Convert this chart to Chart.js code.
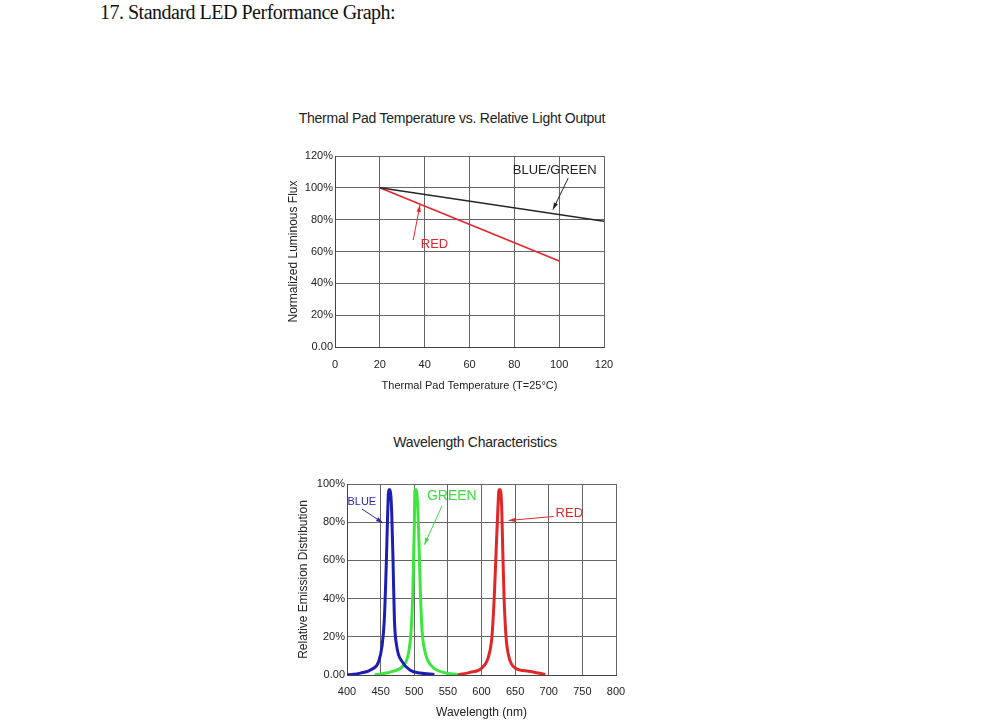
<!DOCTYPE html>
<html>
<head>
<meta charset="utf-8">
<title>Standard LED Performance Graph</title>
<script src="https://cdn.jsdelivr.net/npm/chart.js@4.4.1/dist/chart.umd.min.js"></script>
<style>
	body {
		margin: 0;
		background: #fff;
		width: 987px;
		height: 722px;
		position: relative;
		overflow: hidden;
		font-family: "Liberation Sans", Arial, sans-serif;
	}
	.cabecalho {
		position: absolute;
		left: 100px;
		top: 1px;
		font-family: "Liberation Serif", "Times New Roman", serif;
		font-size: 20px;
		letter-spacing: -0.5px;
		color: #111;
		white-space: nowrap;
	}
	.titulo {
		position: absolute;
		font-size: 14px;
		line-height: 16px;
		letter-spacing: -0.25px;
		color: #222;
		white-space: nowrap;
		transform: translateX(-50%);
	}
	canvas {
		position: absolute;
	}
</style>
</head>
<body>
<div class="cabecalho">17. Standard LED Performance Graph:</div>

<div class="titulo" style="left: 452px; top: 110px">Thermal Pad Temperature vs. Relative Light Output</div>
<canvas id="graficoTermico" width="356" height="262" style="left: 270px; top: 140px"></canvas>

<div class="titulo" style="left: 475px; top: 434px">Wavelength Characteristics</div>
<canvas id="graficoEspectro" width="348" height="252" style="left: 290px; top: 470px"></canvas>

<script>
// Gráfico 1 - temperatura x fluxo luminoso
let temperaturaBG = [20, 120];
let fluxoBG = [100, 79];
let temperaturaRed = [20, 100];
let fluxoRed = [100, 54];
let ticksTemperatura = [0, 20, 40, 60, 80, 100, 120];
let ticksFluxo = [0, 20, 40, 60, 80, 100, 120];

// Gráfico 2 - distribuição espectral
let nmBlue = [400, 420, 437, 447, 452, 455.5, 458.5, 460.5, 462, 464, 466.5, 468.5, 470.5, 474, 482, 494, 509, 530];
let relBlue = [0, 1, 3, 7, 15, 29, 59, 85, 97, 97, 85, 59, 29, 15, 7, 2.5, 1, 0.3];
let nmGreen = [441, 469, 484, 491.5, 495.5, 498, 500, 501, 503, 506.5, 509, 511.5, 516.5, 526.5, 543.5, 565];
let relGreen = [0, 2, 5, 11.5, 24, 45, 76, 97, 97, 76, 45, 24, 11.5, 4.5, 1.4, 0.3];
let nmRed = [562, 583, 600.5, 610.5, 615.5, 619, 622, 624.5, 626, 628, 630, 631.5, 633.5, 636.5, 640.5, 650, 670, 695];
let relRed = [0, 1.4, 3.7, 9.8, 20, 41, 67, 88, 97, 97, 88, 67, 41, 20, 9.8, 3.7, 2, 0.3];
let ticksNm = [400, 450, 500, 550, 600, 650, 700, 750, 800];
let ticksRel = [0, 20, 40, 60, 80, 100];

// Rótulos com seta (posição em coordenadas dos eixos)
const notasTermico = [
	{ texto: "BLUE/GREEN", cor: "#222", fonte: "13px 'Liberation Sans', Arial", x: 98, y: 111, de: [104, 106], para: [97.2, 86.3] },
	{ texto: "RED", cor: "#e3262d", fonte: "13px 'Liberation Sans', Arial", x: 44.4, y: 64.7, de: [34.9, 67.2], para: [37.9, 89.2] },
];
const notasEspectro = [
	{ texto: "BLUE", cor: "#2a2ab0", fonte: "11px 'Liberation Sans', Arial", x: 422, y: 90.7, de: [422.3, 86.9], para: [453.5, 79.6] },
	{ texto: "GREEN", cor: "#3ddc3d", fonte: "14px 'Liberation Sans', Arial", x: 555.8, y: 93.4, de: [541.3, 88.6], para: [515, 68.2] },
	{ texto: "RED", cor: "#e02a2a", fonte: "13px 'Liberation Sans', Arial", x: 730.6, y: 84.5, de: [707.2, 83], para: [640.3, 80.9] },
];

Chart.defaults.font.family = "'Liberation Sans', Arial, sans-serif";
Chart.defaults.color = "#222";

function pontos(xs, ys) {
	return xs.map((v, i) => ({ x: v, y: ys[i] }));
}

function criarPluginNotas(itens) {
	return {
		id: "notas",
		afterDatasetsDraw(chart) {
			const ctx = chart.ctx;
			const sx = chart.scales.x;
			const sy = chart.scales.y;
			for (const n of itens) {
				const x0 = sx.getPixelForValue(n.de[0]);
				const y0 = sy.getPixelForValue(n.de[1]);
				const x1 = sx.getPixelForValue(n.para[0]);
				const y1 = sy.getPixelForValue(n.para[1]);
				const ang = Math.atan2(y1 - y0, x1 - x0);

				ctx.save();
				ctx.strokeStyle = n.cor;
				ctx.fillStyle = n.cor;
				ctx.lineWidth = 1;
				ctx.beginPath();
				ctx.moveTo(x0, y0);
				ctx.lineTo(x1, y1);
				ctx.stroke();

				// ponta da seta
				ctx.beginPath();
				ctx.moveTo(x1, y1);
				ctx.lineTo(x1 - 7 * Math.cos(ang) + 2.2 * Math.sin(ang), y1 - 7 * Math.sin(ang) - 2.2 * Math.cos(ang));
				ctx.lineTo(x1 - 7 * Math.cos(ang) - 2.2 * Math.sin(ang), y1 - 7 * Math.sin(ang) + 2.2 * Math.cos(ang));
				ctx.closePath();
				ctx.fill();

				ctx.font = n.fonte;
				ctx.textAlign = "center";
				ctx.textBaseline = "middle";
				ctx.fillText(n.texto, sx.getPixelForValue(n.x), sy.getPixelForValue(n.y));
				ctx.restore();
			}
		},
	};
}

function rotuloPct(v) {
	return v == 0 ? "0.00" : v + "%";
}

// Renderiza o gráfico de temperatura
const graficoTermico = new Chart(document.getElementById("graficoTermico"), {
	type: "line",
	data: {
		datasets: [
			{
				label: "BLUE/GREEN",
				data: pontos(temperaturaBG, fluxoBG),
				borderColor: "#262626",
				borderWidth: 1.6,
				pointRadius: 0,
			},
			{
				label: "RED",
				data: pontos(temperaturaRed, fluxoRed),
				borderColor: "#e3262d",
				borderWidth: 1.6,
				pointRadius: 0,
			},
		],
	},
	options: {
		responsive: false,
		animation: false,
		layout: { padding: { top: 16, right: 22, left: 0, bottom: 0 } },
		plugins: { legend: { display: false }, tooltip: { enabled: false } },
		scales: {
			x: {
				type: "linear",
				min: 0,
				max: 120,
				afterBuildTicks: (s) => { s.ticks = ticksTemperatura.map((v) => ({ value: v })); },
				afterFit: (s) => { s.height = 55; },
				grid: { color: "#666", drawTicks: false },
				border: { color: "#444" },
				ticks: { padding: 11, autoSkip: false, maxRotation: 0, font: { size: 11 } },
				title: {
					display: true,
					text: "Thermal Pad Temperature (T=25°C)",
					padding: { top: 0, bottom: 9 },
					font: { size: 11 },
				},
			},
			y: {
				min: 0,
				max: 120,
				afterBuildTicks: (s) => { s.ticks = ticksFluxo.map((v) => ({ value: v })); },
				afterFit: (s) => { s.width = 65; },
				grid: { color: "#666", drawTicks: false },
				border: { color: "#444" },
				ticks: { padding: 2, font: { size: 11 }, callback: rotuloPct },
				title: {
					display: true,
					text: "Normalized Luminous Flux",
					padding: { top: 16, bottom: 0 },
					font: { size: 12 },
				},
			},
		},
	},
	plugins: [criarPluginNotas(notasTermico)],
});

// Renderiza o gráfico de comprimento de onda
const graficoEspectro = new Chart(document.getElementById("graficoEspectro"), {
	type: "line",
	data: {
		datasets: [
			{
				label: "BLUE",
				data: pontos(nmBlue, relBlue),
				borderColor: "#1e1eb4",
				borderWidth: 3,
				pointRadius: 0,
				tension: 0.4,
				cubicInterpolationMode: "monotone",
			},
			{
				label: "GREEN",
				data: pontos(nmGreen, relGreen),
				borderColor: "#3de63d",
				borderWidth: 3,
				pointRadius: 0,
				tension: 0.4,
				cubicInterpolationMode: "monotone",
			},
			{
				label: "RED",
				data: pontos(nmRed, relRed),
				borderColor: "#e02626",
				borderWidth: 3,
				pointRadius: 0,
				tension: 0.4,
				cubicInterpolationMode: "monotone",
			},
		],
	},
	options: {
		responsive: false,
		animation: false,
		layout: { padding: { top: 14, right: 22, left: 0, bottom: 0 } },
		plugins: { legend: { display: false }, tooltip: { enabled: false } },
		scales: {
			x: {
				type: "linear",
				min: 400,
				max: 800,
				afterBuildTicks: (s) => { s.ticks = ticksNm.map((v) => ({ value: v })); },
				afterFit: (s) => { s.height = 47; },
				grid: { color: "#666", drawTicks: false },
				border: { color: "#444" },
				ticks: { padding: 10, autoSkip: false, maxRotation: 0, font: { size: 11 } },
				title: {
					display: true,
					text: "Wavelength (nm)",
					padding: { top: 0, bottom: 2 },
					font: { size: 12 },
				},
			},
			y: {
				min: 0,
				max: 100,
				afterBuildTicks: (s) => { s.ticks = ticksRel.map((v) => ({ value: v })); },
				afterFit: (s) => { s.width = 57; },
				grid: { color: "#666", drawTicks: false },
				border: { color: "#444" },
				ticks: { padding: 2, font: { size: 11 }, callback: rotuloPct },
				title: {
					display: true,
					text: "Relative Emission Distribution",
					padding: { top: 6, bottom: 0 },
					font: { size: 12 },
				},
			},
		},
	},
	plugins: [criarPluginNotas(notasEspectro)],
});
</script>
</body>
</html>
